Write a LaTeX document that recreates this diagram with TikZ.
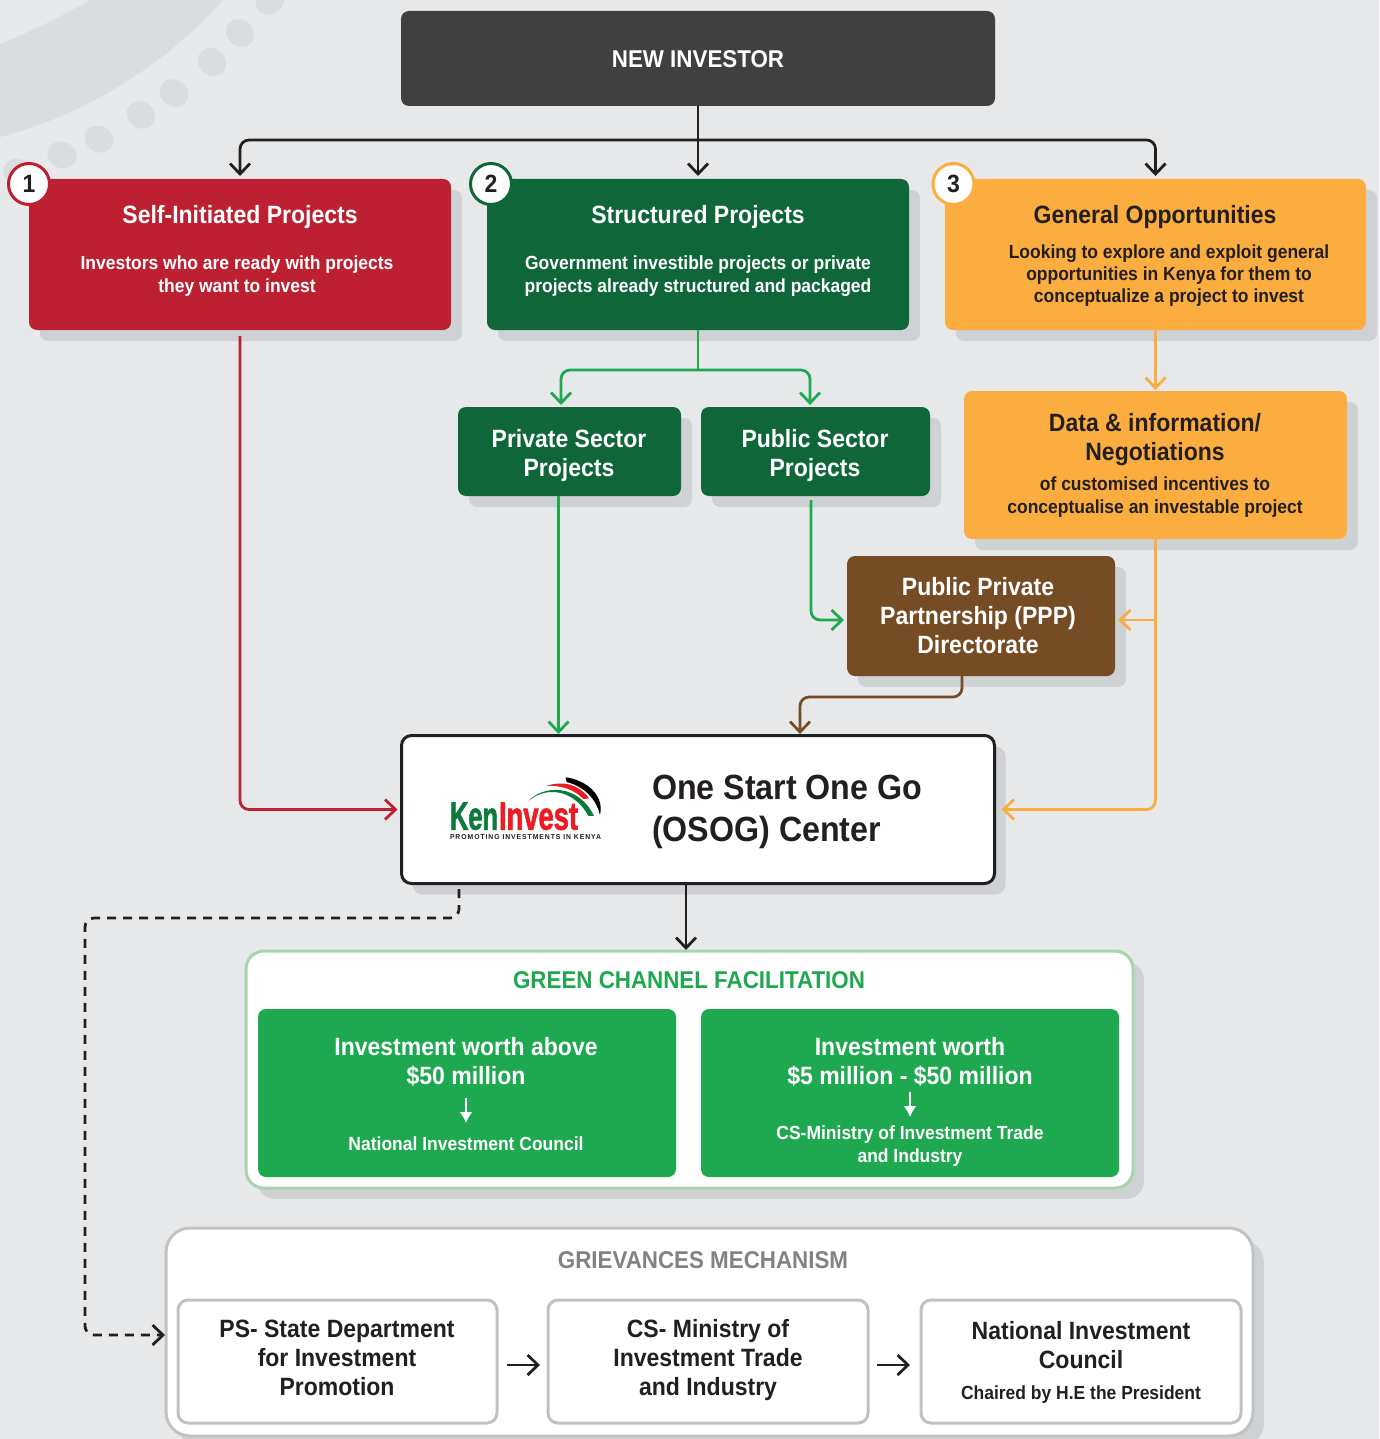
\documentclass[tikz,border=0pt]{standalone}
\usepackage{fontspec}
\usepackage{graphicx}
\setmainfont{Liberation Sans}[FakeStretch=0.92]
\newfontfamily\logofont[FakeBold=2]{Liberation Sans}
\newfontfamily\tagfont[LetterSpace=14]{Liberation Sans}
\usetikzlibrary{arrows.meta,shadows}
\definecolor{bgc}{HTML}{E6E8EA}
\definecolor{decoc}{HTML}{D9DDE0}
\definecolor{shadowc}{HTML}{CFD2D5}
\definecolor{darkc}{HTML}{231F20}
\definecolor{newc}{HTML}{404040}
\definecolor{redc}{HTML}{BC2031}
\definecolor{forestc}{HTML}{0F6638}
\definecolor{orangec}{HTML}{FBAD3F}
\definecolor{brownc}{HTML}{754C24}
\definecolor{greenc}{HTML}{1EA84F}
\definecolor{paleg}{HTML}{A8D5AB}
\definecolor{greyb}{HTML}{C0C2C4}
\definecolor{greyt}{HTML}{808285}
\definecolor{logog}{HTML}{0B7A3B}
\definecolor{logor}{HTML}{ED1C24}
\tikzset{
  x=1pt,y=-1pt,
  shad/.style={general shadow={fill=shadowc,shadow xshift=11pt,shadow yshift=-11pt}},
  boxbase/.style={rectangle,inner sep=0pt,outer sep=0pt,rounded corners=8pt},
  solidbox/.style={boxbase,shad,fill=#1},
  outbox/.style={boxbase,draw=darkc,line width=3pt,fill=white,rounded corners=10pt,shad},
  greenframe/.style={boxbase,draw=paleg,line width=3pt,fill=white,rounded corners=18pt,shad},
  greyframe/.style={boxbase,draw=greyb,line width=3pt,fill=white,rounded corners=24pt,shad},
  innerbox/.style={boxbase,draw=greyb,line width=3pt,fill=white,rounded corners=10pt},
  badge/.style={circle,draw=#1,line width=3pt,fill=white,text=darkc,minimum size=41pt,inner sep=0pt,font=\fontsize{25}{25}\selectfont\bfseries},
  txt/.style={align=center,inner sep=0pt,outer sep=0pt,text=#1},
  hA/.style={font=\fontsize{25}{29}\selectfont\bfseries},
  hCaps/.style={font=\fontsize{24.3}{29}\selectfont\bfseries},
  hB/.style={font=\fontsize{19}{23}\selectfont\bfseries},
  hC/.style={font=\fontsize{19}{22}\selectfont\bfseries},
  conn/.style={line width=2.75pt,draw=#1,rounded corners=9pt,line join=round,
    -{Straight Barb[length=10.5pt,width=20pt,line width=2.75pt]}},
  plainconn/.style={line width=2.75pt,draw=#1},
  whiteconn/.style={line width=2.75pt,draw=white,-{Latex[length=11pt,width=13pt]}}
}
\newcommand{\bx}[6]{\node[#6,minimum width={(#4-#2)*1pt},minimum height={(#5-#3)*1pt}] (#1) at ({(#2+#4)/2},{(#3+#5)/2}) {};}
\begin{document}
\begin{tikzpicture}
\useasboundingbox (0,0) rectangle (1379,1439);
\fill[bgc] (0,0) rectangle (1379,1439);
% decoration
\begin{scope}
\clip (0,0) rectangle (1379,1439);
\fill[decoc] (0,137) .. controls (85,115) and (165,65) .. (223,0) -- (90,0) .. controls (65,15) and (30,32) .. (0,44) -- cycle;
\foreach \a/\b/\r in {270/1/40,240/33/-45,212/62/-45,174/93/-40,141/115/-35,99/139/-30,62/155/-25,18/172/-20}
  \fill[decoc] (\a,\b) ellipse [x radius=15,y radius=13,rotate=\r];
\end{scope}
% boxes
\bx{newinv}{401}{11}{995}{106}{boxbase,fill=newc}
\bx{self}{29}{179}{451}{330}{solidbox=redc}
\bx{struct}{487}{179}{909}{330}{solidbox=forestc}
\bx{general}{945}{179}{1366}{330}{solidbox=orangec}
\bx{private}{458}{407}{681}{496}{solidbox=forestc}
\bx{public}{701}{407}{930}{496}{solidbox=forestc}
\bx{datab}{964}{391}{1347}{539}{solidbox=orangec}
\bx{ppp}{847}{556}{1115}{676}{solidbox=brownc}
\bx{osog}{401.5}{735.5}{994.5}{883.5}{outbox}
\bx{channel}{246}{951}{1133}{1188}{greenframe}
\bx{inva}{258}{1009}{676}{1177}{boxbase,fill=greenc}
\bx{invb}{701}{1009}{1119}{1177}{boxbase,fill=greenc}
\bx{griev}{166}{1228}{1253}{1436}{greyframe}
\bx{ps}{178}{1300}{497}{1423}{innerbox}
\bx{cs}{548}{1300}{868}{1423}{innerbox}
\bx{nic}{921}{1300}{1241}{1423}{innerbox}
% connectors
\coordinate (bus) at (698,140);
\draw[conn=darkc,shorten >=3pt] (newinv.south) -- (struct.north);
\draw[conn=darkc,shorten >=3pt] (bus) -| (self.north);
\draw[conn=darkc,shorten >=3pt] (bus) -| (general.north);
\draw[conn=redc,shorten <=6pt,shorten >=4pt] (self.south) |- (osog.west);
\coordinate (sj) at (698,370);
\coordinate (pa) at (561,407);
\coordinate (pb) at (810,407);
\draw[plainconn=greenc] (struct.south) -- (sj);
\draw[conn=greenc,shorten >=2pt] (sj) -| (pa);
\draw[conn=greenc,shorten >=2pt] (sj) -| (pb);
\coordinate (pvs) at (558.5,496);
\coordinate (pve) at (558.5,735);
\draw[conn=greenc,shorten >=1pt] (pvs) -- (pve);
\coordinate (pus) at (811,500);
\coordinate (pue) at (847,620);
\draw[conn=greenc,shorten >=3pt] (pus) |- (pue);
\coordinate (bs) at (962,676);
\coordinate (bm) at (962,697);
\coordinate (be) at (800,735);
\draw[conn=brownc,shorten >=1pt] (bs) -- (bm) -| (be);
\draw[conn=orangec,shorten >=1pt] (general.south) -- (datab.north);
\coordinate (oj) at (1155.5,620);
\coordinate (ov) at (1115,620);
\draw[conn=orangec,shorten >=3pt] (oj) -- (ov);
\draw[conn=orangec,shorten >=7pt] (datab.south) |- (osog.east);
\coordinate (os) at (686,883);
\coordinate (oe) at (686,951);
\draw[conn=darkc,shorten >=1pt] (os) -- (oe);
\coordinate (ds) at (459,889);
\coordinate (dm) at (459,918);
\coordinate (gw) at (166,1335);
\draw[conn=darkc,dash pattern=on 9pt off 7pt,shorten >=1pt] (ds) -- (dm) -| (85,1335) -- (gw);
\draw[conn=darkc,rounded corners=0pt,shorten <=10pt,shorten >=8pt] ([yshift=-3.5pt]ps.east) -- ([yshift=-3.5pt]cs.west);
\draw[conn=darkc,rounded corners=0pt,shorten <=9pt,shorten >=11pt] ([yshift=-3.5pt]cs.east) -- ([yshift=-3.5pt]nic.west);
% badges
\node[badge=redc] (ba) at (29,184) {1};
\node[badge=forestc] (bb) at (491,184) {2};
\node[badge=orangec] (bc) at (953.5,184) {3};
% text
\node[txt=white,hCaps] (tnew) at (698,59) {NEW INVESTOR};
\node[txt=white,hA] (t1) at (240,217.5) {Self-Initiated Projects};
\node[txt=white,hB] (t1b) at (237,276.5) {Investors who are ready with projects\\they want to invest};
\node[txt=white,hA] (t2) at (698,217.5) {Structured Projects};
\node[txt=white,hB] (t2b) at (698,276.5) {Government investible projects or private\\projects already structured and packaged};
\node[txt=darkc,hA] (t3) at (1155,217.5) {General Opportunities};
\node[txt=darkc,hC] (t3b) at (1169,276) {Looking to explore and exploit general\\opportunities in Kenya for them to\\conceptualize a project to invest};
\node[txt=white,hA] (tpr) at (569,456) {Private Sector\\Projects};
\node[txt=white,hA] (tpu) at (815,456) {Public Sector\\Projects};
\node[txt=darkc,hA] (td) at (1155,440) {Data \& information/\\Negotiations};
\node[txt=darkc,hB] (tdb) at (1155,497.5) {of customised incentives to\\conceptualise an investable project};
\node[txt=white,hA] (tppp) at (978,616) {Public Private\\Partnership (PPP)\\Directorate};
\node[txt=darkc,align=left,anchor=west,font=\fontsize{35}{42}\selectfont\bfseries] (tos) at (652,812) {One Start One Go\\(OSOG) Center};
\node[txt=greenc,hCaps] (tg) at (689,980) {GREEN CHANNEL FACILITATION};
\node[txt=white,hA] (tia) at (466,1061.5) {Investment worth above\\\$50 million};
\node[txt=white,font=\fontsize{19}{23}\selectfont\bfseries] (tiab) at (466,1144) {National Investment Council};
\node[txt=white,hA] (tib) at (910,1061.5) {Investment worth\\\$5 million - \$50 million};
\node[txt=white,font=\fontsize{19}{23}\selectfont\bfseries] (tibb) at (910,1146.5) {CS-Ministry of Investment Trade\\and Industry};
\node[txt=greyt,hCaps] (tgm) at (703,1260) {GRIEVANCES MECHANISM};
\node[txt=darkc,hA] (tps) at (337,1358) {PS- State Department\\for Investment\\Promotion};
\node[txt=darkc,hA] (tcs) at (708,1360.5) {CS- Ministry of\\Investment Trade\\and Industry};
\node[txt=darkc,hA] (tn) at (1081,1345.5) {National Investment\\Council};
\node[txt=darkc,font=\fontsize{19}{23}\selectfont\bfseries] (tnb) at (1081,1394.5) {Chaired by H.E the President};
% white arrows
\coordinate (wa) at (466,1098);
\coordinate (wb) at (466,1123);
\coordinate (wc) at (910,1092);
\coordinate (wd) at (910,1117);
\draw[whiteconn] (wa) -- (wb);
\draw[whiteconn] (wc) -- (wd);
% logo
\begin{scope}[shift={(400,730)},x=.3333pt,y=-.3333pt]
\fill[black] (497,142) .. controls (550,148) and (615,190) .. (600,255) .. controls (590,210) and (555,170) .. (500,156) -- cycle;
\fill[logor] (440,168) .. controls (490,150) and (540,165) .. (567,205) -- (550,207) .. controls (525,180) and (485,165) .. (440,168) -- cycle;
\fill[logog] (385,213) .. controls (430,165) and (535,160) .. (582,258) -- (565,258) .. controls (530,190) and (450,160) .. (385,213) -- cycle;
\end{scope}
\node[inner sep=0pt,outer sep=0pt,anchor=south west,text=logog] (lken) at (450,830) {\resizebox{48pt}{27pt}{\logofont\bfseries Ken}};
\node[inner sep=0pt,outer sep=0pt,anchor=south west,text=logor] (linv) at (499,830) {\resizebox{79pt}{27pt}{\logofont\bfseries Invest}};
\node[inner sep=0pt,outer sep=0pt,anchor=west,text=darkc] (ltag) at (450,837) {\resizebox{151pt}{5pt}{\tagfont\bfseries PROMOTING INVESTMENTS IN KENYA}};
\end{tikzpicture}
\end{document}
